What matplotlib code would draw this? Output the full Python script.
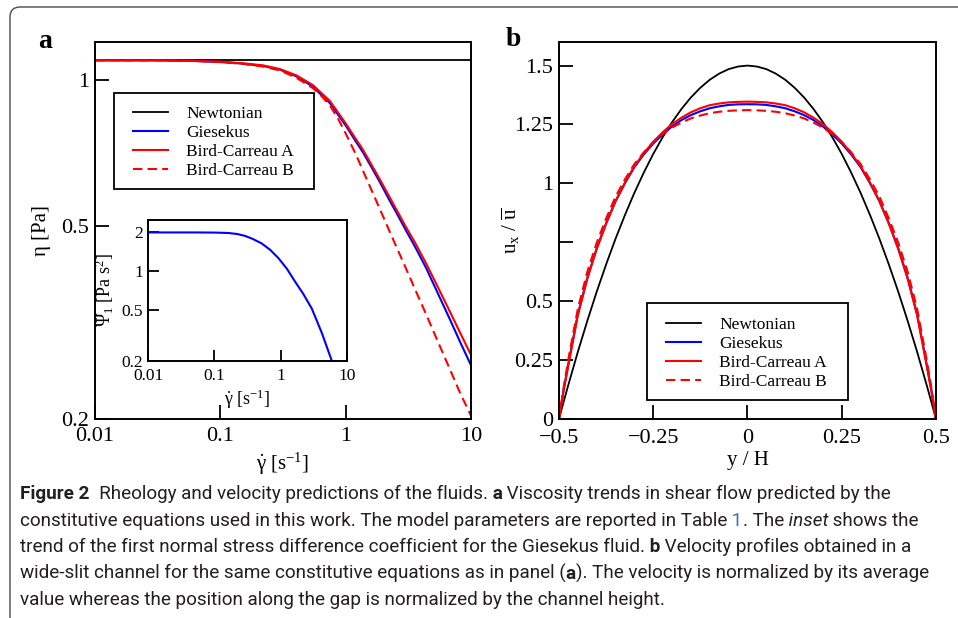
import numpy as np
import matplotlib.pyplot as plt
from matplotlib.patches import FancyBboxPatch, Rectangle
from matplotlib.transforms import IdentityTransform

plt.rcParams['font.family'] = ['Liberation Serif', 'DejaVu Serif']
plt.rcParams['mathtext.fontset'] = 'custom'
plt.rcParams['mathtext.rm'] = 'Liberation Serif'
plt.rcParams['mathtext.it'] = 'Liberation Serif:italic'
plt.rcParams['mathtext.bf'] = 'Liberation Serif:bold'

# viscosity curves (panel a)
shear_rate = [0.01, 0.03, 0.06, 0.1, 0.15, 0.219, 0.3, 0.405, 0.55, 0.65, 0.747,
              0.87, 1.01, 1.2, 1.37, 1.6, 1.87, 2.2, 2.56, 3.0, 3.6, 4.38, 5.5,
              6.75, 8.2, 10.0]
eta_newtonian = [1.1] * len(shear_rate)
eta_giesekus = [1.1, 1.1, 1.097, 1.091, 1.083, 1.071, 1.052, 1.019, 0.970, 0.929,
                0.898, 0.849, 0.804, 0.749, 0.711, 0.663, 0.617, 0.570, 0.531,
                0.492, 0.452, 0.410, 0.361, 0.322, 0.288, 0.258]
eta_bc_a = [1.1, 1.1, 1.098, 1.093, 1.085, 1.074, 1.055, 1.024, 0.977, 0.938,
            0.907, 0.858, 0.812, 0.758, 0.72, 0.671, 0.625, 0.579, 0.539, 0.50,
            0.461, 0.419, 0.372, 0.334, 0.301, 0.271]
eta_bc_b = [1.1, 1.1, 1.097, 1.091, 1.082, 1.068, 1.048, 1.012, 0.963, 0.925,
            0.888, 0.833, 0.773, 0.705, 0.652, 0.595, 0.543, 0.493, 0.451,
            0.411, 0.369, 0.329, 0.287, 0.254, 0.226, 0.203]

# first normal stress coefficient, Giesekus (inset)
inset_rate = [0.01, 0.05, 0.1, 0.162, 0.22, 0.29, 0.38, 0.52, 0.7, 0.93, 1.25,
              1.66, 2.2, 2.97, 4.2, 5.95]
psi1_giesekus = [2.0, 2.0, 1.995, 1.98, 1.945, 1.88, 1.78, 1.64, 1.46, 1.26,
                 1.04, 0.826, 0.665, 0.509, 0.33, 0.2]

# velocity profiles (panel b)
y_over_h = [-0.5, -0.4875, -0.475, -0.45, -0.425, -0.4, -0.375, -0.35, -0.325,
            -0.3, -0.275, -0.25, -0.225, -0.2, -0.175, -0.15, -0.125, -0.1,
            -0.075, -0.05, -0.025, 0.0, 0.025, 0.05, 0.075, 0.1, 0.125, 0.15,
            0.175, 0.2, 0.225, 0.25, 0.275, 0.3, 0.325, 0.35, 0.375, 0.4,
            0.425, 0.45, 0.475, 0.4875, 0.5]
u_newtonian = [0.0, 0.074, 0.146, 0.285, 0.416, 0.54, 0.656, 0.765, 0.866, 0.96,
               1.046, 1.125, 1.196, 1.26, 1.316, 1.365, 1.406, 1.44, 1.466,
               1.485, 1.496, 1.5, 1.496, 1.485, 1.466, 1.44, 1.406, 1.365,
               1.316, 1.26, 1.196, 1.125, 1.046, 0.96, 0.866, 0.765, 0.656,
               0.54, 0.416, 0.285, 0.146, 0.074, 0.0]
u_giesekus = [0.0, 0.125, 0.235, 0.445, 0.598, 0.724, 0.831, 0.924, 1.001, 1.069,
              1.123, 1.169, 1.208, 1.242, 1.269, 1.29, 1.306, 1.319, 1.327,
              1.333, 1.3355, 1.336, 1.3355, 1.333, 1.327, 1.319, 1.306, 1.29,
              1.269, 1.242, 1.208, 1.169, 1.123, 1.069, 1.001, 0.924, 0.831,
              0.724, 0.598, 0.445, 0.235, 0.125, 0.0]
u_bc_a = [0.0, 0.122, 0.23, 0.44, 0.595, 0.722, 0.829, 0.925, 1.003, 1.073,
          1.128, 1.177, 1.217, 1.252, 1.279, 1.302, 1.319, 1.332, 1.339, 1.344,
          1.346, 1.347, 1.346, 1.344, 1.339, 1.332, 1.319, 1.302, 1.279, 1.252,
          1.217, 1.177, 1.128, 1.073, 1.003, 0.925, 0.829, 0.722, 0.595, 0.44,
          0.23, 0.122, 0.0]
u_bc_b = [0.0, 0.137, 0.255, 0.468, 0.624, 0.748, 0.851, 0.944, 1.017, 1.082,
          1.132, 1.175, 1.209, 1.237, 1.258, 1.276, 1.288, 1.298, 1.304, 1.308,
          1.310, 1.311, 1.310, 1.308, 1.304, 1.298, 1.288, 1.276, 1.258, 1.237,
          1.209, 1.175, 1.132, 1.082, 1.017, 0.944, 0.851, 0.748, 0.624, 0.468,
          0.255, 0.137, 0.0]

labels = ["Newtonian", "Giesekus", "Bird-Carreau A", "Bird-Carreau B"]
gdot_label = r"$\dot{\mathrm{\gamma}}$ [s$^{\mathrm{-1}}$]"

fig = plt.figure(figsize=(9.58, 6.18), dpi=100)


def style_axes(ax, size, tick_len, xpad):
    for sp in ax.spines.values():
        sp.set_linewidth(1.4)
    ax.tick_params(which='both', direction='in', length=tick_len, width=1.3,
                   top=False, right=False, labelsize=size, pad=4)
    ax.tick_params(axis='x', pad=xpad)
    ax.minorticks_off()


def add_legend(ax, anchor, box):
    # legend entries without frame, the box is drawn separately
    ax.legend(loc='upper left', bbox_to_anchor=anchor, fontsize=12.5,
              frameon=False, borderpad=0.3, handlelength=2.02,
              handletextpad=1.05, labelspacing=0.16, borderaxespad=0)
    x0, y0, x1, y1 = box
    ax.add_patch(Rectangle((x0, y0), x1 - x0, y1 - y0, transform=ax.transAxes,
                           fill=False, edgecolor='black', lw=1.3, zorder=5))


# panel a: viscosity
ax_a = fig.add_axes([0.0992, 0.322, 0.3925, 0.610])
ax_a.plot(shear_rate, eta_newtonian, color='black', lw=1.3, label=labels[0])
ax_a.plot(shear_rate, eta_giesekus, color='#0000ff', lw=1.5, label=labels[1])
ax_a.plot(shear_rate, eta_bc_a, color='#ff0000', lw=1.5, label=labels[2])
ax_a.plot(shear_rate, eta_bc_b, color='#ff0000', lw=1.5, dashes=(4.5, 2.5),
          label=labels[3])
ax_a.set_xscale('log')
ax_a.set_yscale('log')
ax_a.set_xlim(0.01, 10)
ax_a.set_ylim(0.2, 1.2)
ax_a.set_xticks([0.01, 0.1, 1, 10], ["0.01", "0.1", "1", "10"])
ax_a.set_yticks([0.2, 0.5, 1], ["0.2", "0.5", "1"])
style_axes(ax_a, 16, 10, 6)
ax_a.set_xlabel(gdot_label, fontsize=15)
ax_a.set_ylabel("η [Pa]", fontsize=15)
ax_a.xaxis.set_label_coords(0.5, -0.085)
ax_a.yaxis.set_label_coords(-0.118, 0.5)
add_legend(ax_a, (0.087, 0.8435), (0.0505, 0.6101, 0.5824, 0.8647))

# inset: first normal stress coefficient
ax_in = fig.add_axes([0.1548, 0.4163, 0.2071, 0.2277])
ax_in.plot(inset_rate, psi1_giesekus, color='#0000ff', lw=1.5)
ax_in.set_xscale('log')
ax_in.set_yscale('log')
ax_in.set_xlim(0.01, 10)
ax_in.set_ylim(0.2, 2.5)
ax_in.set_xticks([0.01, 0.1, 1, 10], ["0.01", "0.1", "1", "10"])
ax_in.set_yticks([0.2, 0.5, 1, 2], ["0.2", "0.5", "1", "2"])
style_axes(ax_in, 12.5, 8, 5)
ax_in.set_xlabel(gdot_label, fontsize=13)
ax_in.set_ylabel(r"$\mathrm{\Psi_1}$ [Pa s$^{\mathrm{2}}$]", fontsize=13)
ax_in.xaxis.set_label_coords(0.5, -0.19)
ax_in.yaxis.set_label_coords(-0.165, 0.5)

# panel b: velocity profiles
ax_b = fig.add_axes([0.5835, 0.322, 0.3935, 0.610])
ax_b.plot(y_over_h, u_newtonian, color='black', lw=1.3, label=labels[0])
ax_b.plot(y_over_h, u_giesekus, color='#0000ff', lw=1.5, label=labels[1])
ax_b.plot(y_over_h, u_bc_a, color='#ff0000', lw=1.5, label=labels[2])
ax_b.plot(y_over_h, u_bc_b, color='#ff0000', lw=1.5, dashes=(4.5, 2.5),
          label=labels[3])
ax_b.set_xlim(-0.5, 0.5)
ax_b.set_ylim(0, 1.6)
ax_b.set_xticks([-0.5, -0.25, 0, 0.25, 0.5],
                ["\u22120.5", "\u22120.25", "0", "0.25", "0.5"])
ax_b.set_yticks([0, 0.25, 0.5, 0.75, 1, 1.25, 1.5],
                ["0", "0.25", "0.5", "", "1", "1.25", "1.5"])
style_axes(ax_b, 16, 10, 7)
ax_b.set_xlabel("y / H", fontsize=15)
ax_b.set_ylabel(r"$\mathrm{u_x\ /\ \overline{u}}$", fontsize=15)
ax_b.xaxis.set_label_coords(0.5, -0.085)
ax_b.yaxis.set_label_coords(-0.097, 0.5)
add_legend(ax_b, (0.270, 0.285), (0.2326, 0.0504, 0.7674, 0.3085))

# panel letters
px = IdentityTransform()
fig.text(45, 618 - 42, "a", transform=px, fontsize=20, fontweight='bold',
         ha='center', va='center')
fig.text(513, 618 - 40, "b", transform=px, fontsize=20, fontweight='bold',
         ha='center', va='center')

# outer frame
frame = FancyBboxPatch((10, -40), 1000, 618 - 7 + 40,
                       boxstyle="round,pad=0,rounding_size=10",
                       transform=px, fill=False, edgecolor='#4a4a4a', lw=1.0)
fig.add_artist(frame)

# caption
cap_font = ['Roboto', 'DejaVu Sans']
cap_size = 13.6
run_style = {
    'r': dict(color='#231f20'),
    'b': dict(color='#231f20', fontweight='bold'),
    'i': dict(color='#231f20', fontstyle='italic'),
    'l': dict(color='#3b6fc4'),
}
caption = [
    [("Figure 2", 'b'), ("  Rheology and velocity predictions of the fluids.", 'r'),
     (" a", 'b'), (" Viscosity trends in shear flow predicted by the", 'r')],
    [("constitutive equations used in this work. The model parameters are "
      "reported in Table", 'r'), (" 1", 'l'), (". The", 'r'), (" inset", 'i'),
     (" shows the", 'r')],
    [("trend of the first normal stress difference coefficient for the "
      "Giesekus fluid.", 'r'), (" b", 'b'),
     (" Velocity profiles obtained in a", 'r')],
    [("wide-slit channel for the same constitutive equations as in panel (", 'r'),
     ("a", 'b'), ("). The velocity is normalized by its average", 'r')],
    [("value whereas the position along the gap is normalized by the channel "
      "height.", 'r')],
]
renderer = fig.canvas.get_renderer()
for i, line in enumerate(caption):
    x = 20
    y = 618 - (499 + i * 26.6)
    for txt, key in line:
        t = fig.text(x, y, txt, transform=px, family=cap_font, fontsize=cap_size,
                     va='baseline', **run_style[key])
        x += t.get_window_extent(renderer).width

fig.savefig("out.png", dpi=100)
